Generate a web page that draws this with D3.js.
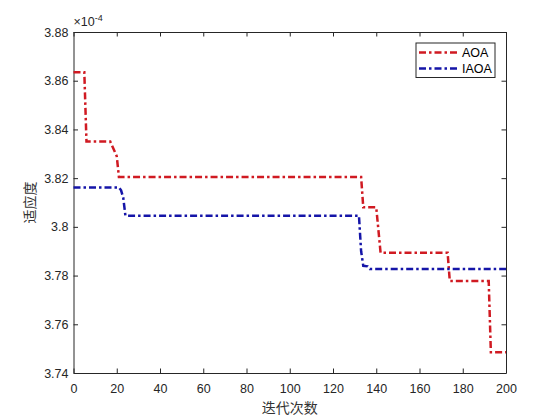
<!DOCTYPE html>
<html>
<head>
<meta charset="utf-8">
<script src="https://cdn.jsdelivr.net/npm/d3@7/dist/d3.min.js"></script>
<style>
  body { margin: 0; background: #fff; }
  text { font-family: "Liberation Sans", Arial, sans-serif; }
</style>
</head>
<body>
<div id="chart"></div>
<script>
// fitness values in units of 1e-4, given at the iterations where the curve changes
const aoaIter = [0, 5, 6, 17, 18, 19, 20, 21, 133, 134, 140, 142, 173, 174, 192, 193, 200];
const aoaFit  = [3.8635, 3.8635, 3.835, 3.835, 3.833, 3.831, 3.829, 3.8205, 3.8205, 3.808, 3.808, 3.7894, 3.7894, 3.7778, 3.7778, 3.7485, 3.7485];

const iaoaIter = [0, 21, 22, 23, 24, 132, 133, 134, 136, 137, 200];
const iaoaFit  = [3.8162, 3.8162, 3.815, 3.812, 3.8046, 3.8046, 3.790, 3.784, 3.7838, 3.7827, 3.7827];

const seriesNames = ['AOA', 'IAOA'];
const xTicks = [0, 20, 40, 60, 80, 100, 120, 140, 160, 180, 200];
const yTicks = [3.74, 3.76, 3.78, 3.80, 3.82, 3.84, 3.86, 3.88];

const w = 560, h = 420;
const margin = {left: 73.5, right: 54, top: 32, bottom: 47};

const svg = d3.select('#chart')
  .append('svg')
  .attr('width', w)
  .attr('height', h);

const x = d3.scaleLinear()
  .domain([0, 200])
  .range([margin.left, w - margin.right]);

const y = d3.scaleLinear()
  .domain([3.74, 3.88])
  .range([h - margin.bottom, margin.top]);

const tick = 4.5;
const axisColor = '#262626';

// axes, MATLAB style: ticks pointing inwards, box on
const xAxis = d3.axisBottom(x).tickValues(xTicks).tickSizeInner(-tick).tickSizeOuter(0).tickPadding(11);
const yAxis = d3.axisLeft(y).tickValues(yTicks).tickSizeInner(-tick).tickSizeOuter(0).tickPadding(5)
  .tickFormat(d => String(+d.toFixed(2)));
const xTop = d3.axisTop(x).tickValues(xTicks).tickSizeInner(-tick).tickSizeOuter(0).tickFormat('');
const yRight = d3.axisRight(y).tickValues(yTicks).tickSizeInner(-tick).tickSizeOuter(0).tickFormat('');

const gx = svg.append('g').attr('transform', 'translate(0,' + (h - margin.bottom) + ')').call(xAxis);
const gy = svg.append('g').attr('transform', 'translate(' + margin.left + ',0)').call(yAxis);
const gt = svg.append('g').attr('transform', 'translate(0,' + margin.top + ')').call(xTop);
const gr = svg.append('g').attr('transform', 'translate(' + (w - margin.right) + ',0)').call(yRight);

[gx, gy, gt, gr].forEach(g => {
  g.select('.domain').attr('stroke', axisColor).attr('stroke-width', 1);
  g.selectAll('.tick line').attr('stroke', axisColor).attr('stroke-width', 1);
  g.selectAll('.tick text')
    .attr('fill', axisColor)
    .style('font-family', '"Liberation Sans", Arial, sans-serif')
    .style('font-size', '12.5px');
});

// lines
const line = d3.line()
  .x(d => x(d[0]))
  .y(d => y(d[1]));

const aoaData = aoaIter.map((t, i) => [t, aoaFit[i]]);
const iaoaData = iaoaIter.map((t, i) => [t, iaoaFit[i]]);

const colors = ['#d01a22', '#1515a8'];
const dash = '7,3,2.5,3';

svg.append('path')
  .datum(aoaData)
  .attr('d', line)
  .attr('fill', 'none')
  .attr('stroke', colors[0])
  .attr('stroke-width', 2.5)
  .attr('stroke-dasharray', dash);

svg.append('path')
  .datum(iaoaData)
  .attr('d', line)
  .attr('fill', 'none')
  .attr('stroke', colors[1])
  .attr('stroke-width', 2.5)
  .attr('stroke-dasharray', dash);

// exponent label
const expo = svg.append('text')
  .attr('x', margin.left)
  .attr('y', margin.top - 6)
  .attr('fill', axisColor)
  .style('font-size', '12.5px');
expo.append('tspan').text('\u00d710');
expo.append('tspan').attr('dy', -5).style('font-size', '9px').text('-4');

// axis titles
svg.append('text')
  .attr('x', (margin.left + w - margin.right) / 2)
  .attr('y', 413)
  .attr('text-anchor', 'middle')
  .attr('fill', '#333')
  .style('font-family', '"Noto Sans CJK SC", sans-serif')
  .style('font-size', '14px')
  .text('迭代次数');

svg.append('text')
  .attr('transform', 'translate(35,' + ((margin.top + h - margin.bottom) / 2) + ') rotate(-90)')
  .attr('text-anchor', 'middle')
  .attr('fill', '#333')
  .style('font-family', '"Noto Sans CJK SC", sans-serif')
  .style('font-size', '14px')
  .text('适应度');

// legend
const lg = svg.append('g').attr('transform', 'translate(416,43)');
lg.append('rect')
  .attr('width', 79)
  .attr('height', 34.5)
  .attr('fill', '#fff')
  .attr('stroke', axisColor)
  .attr('stroke-width', 1);

seriesNames.forEach((name, i) => {
  const ly = 9.5 + i * 16;
  lg.append('line')
    .attr('x1', 3).attr('x2', 44)
    .attr('y1', ly).attr('y2', ly)
    .attr('stroke', colors[i])
    .attr('stroke-width', 2.5)
    .attr('stroke-dasharray', dash);
  lg.append('text')
    .attr('x', 46)
    .attr('y', ly + 4.5)
    .attr('fill', '#000')
    .style('font-size', '12.5px')
    .text(name);
});
</script>
</body>
</html>
